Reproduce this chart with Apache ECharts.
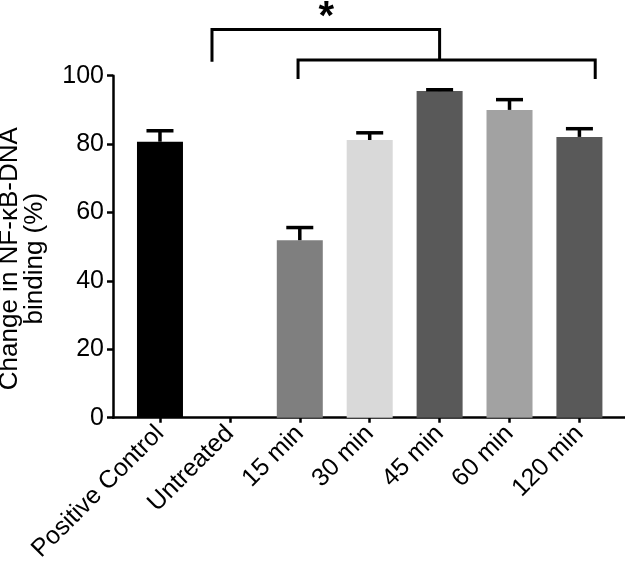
<!DOCTYPE html>
<html>
<head>
<meta charset="utf-8">
<script src="https://cdn.jsdelivr.net/npm/echarts@6/dist/echarts.min.js"></script>
<style>html,body{margin:0;padding:0;background:#fff}#c{width:625px;height:562px}</style>
</head>
<body>
<div id="c"></div>
<script>
const categories = ['Positive Control', 'Untreated', '15 min', '30 min', '45 min', '60 min', '120 min'];
const values = [80.7, 0, 51.9, 81.2, 95.5, 90.0, 82.1];
const errors = [3.2, 0, 3.7, 2.1, 0.4, 3.0, 2.4];
const barColors = ['#000000', '#ffffff', '#7f7f7f', '#d9d9d9', '#595959', '#a2a2a2', '#595959'];
const yTicks = [0, 20, 40, 60, 80, 100];
// significance brackets
const bracketLeft = [0.744, 1.975];
const bracketRight = [4.0, 6.226];
const bracketTop = [113.5, 104.6];
const bracketFootLeft = [104.1, 99.0];
const bracketFootRight = [104.6, 99.0];
const starPos = [2.38, 119.4];
const starText = '*';

const FONT = '"Liberation Sans", Arial, Helvetica, sans-serif';
const chart = echarts.init(document.getElementById('c'));

const tickIdx = categories.map((c, i) => i);

chart.setOption({
  animation: false,
  grid: { left: 113, right: 0, top: 75.7, bottom: 144.3, outerBoundsMode: 'none', containLabel: false },
  xAxis: {
    type: 'value',
    min: -0.672,
    max: 6.652,
    splitLine: { show: false },
    axisLine: { show: true, onZero: false, lineStyle: { color: '#000', width: 2.5 } },
    axisTick: { show: true, customValues: tickIdx, length: 5, lineStyle: { color: '#000', width: 2.5 } },
    axisLabel: {
      customValues: tickIdx,
      formatter: v => categories[Math.round(v)],
      rotate: 45, margin: 12, fontSize: 25, color: '#000', fontFamily: FONT
    }
  },
  yAxis: {
    type: 'value',
    min: 0, max: 100, interval: 20,
    splitLine: { show: false },
    axisLine: { show: true, onZero: false, lineStyle: { color: '#000', width: 2.5 } },
    axisTick: { show: true, length: 6, lineStyle: { color: '#000', width: 2.5 } },
    axisLabel: {
      margin: 9, fontSize: 25, color: '#000', fontFamily: FONT,
      customValues: yTicks
    },
    name: 'Change in NF-\u03baB-DNA\nbinding (%)',
    nameLocation: 'middle',
    nameGap: 66,
    nameTextStyle: { fontSize: 26, color: '#000', fontFamily: FONT, lineHeight: 25, padding: [0, 24, 0, 0] }
  },
  series: [
    {
      type: 'bar',
      barWidth: 46,
      data: values.map((v, i) => ({ value: [i, v], itemStyle: { color: barColors[i] } }))
    },
    {
      type: 'custom',
      clip: false,
      z: 5,
      data: values.map((v, i) => [i, v, errors[i]]),
      renderItem: function (params, api) {
        const x = api.value(0), v = api.value(1), e = api.value(2);
        if (!e) return null;
        const base = api.coord([x, v]);
        const top = api.coord([x, v + e]);
        const style = { stroke: '#000', lineWidth: 3.5 };
        return {
          type: 'group',
          children: [
            { type: 'line', shape: { x1: base[0], y1: base[1], x2: top[0], y2: top[1] }, style: style },
            { type: 'line', shape: { x1: top[0] - 13.5, y1: top[1], x2: top[0] + 13.5, y2: top[1] }, style: style }
          ]
        };
      }
    },
    {
      type: 'custom',
      clip: false,
      z: 5,
      data: bracketLeft.map((l, i) => [l, bracketRight[i], bracketTop[i], bracketFootLeft[i], bracketFootRight[i]]),
      renderItem: function (params, api) {
        const a = api.coord([api.value(0), api.value(3)]);
        const b = api.coord([api.value(0), api.value(2)]);
        const c = api.coord([api.value(1), api.value(2)]);
        const d = api.coord([api.value(1), api.value(4)]);
        return {
          type: 'polyline',
          shape: { points: [a, b, c, d] },
          style: { stroke: '#000', lineWidth: 3, fill: null }
        };
      }
    },
    {
      type: 'custom',
      clip: false,
      z: 5,
      data: [starPos],
      renderItem: function (params, api) {
        const p = api.coord([api.value(0), api.value(1)]);
        return {
          type: 'text',
          x: p[0], y: p[1] + 9,
          style: { text: starText, font: 'bold 40px ' + FONT, fill: '#000', align: 'center', verticalAlign: 'middle' }
        };
      }
    }
  ]
});
</script>
</body>
</html>
